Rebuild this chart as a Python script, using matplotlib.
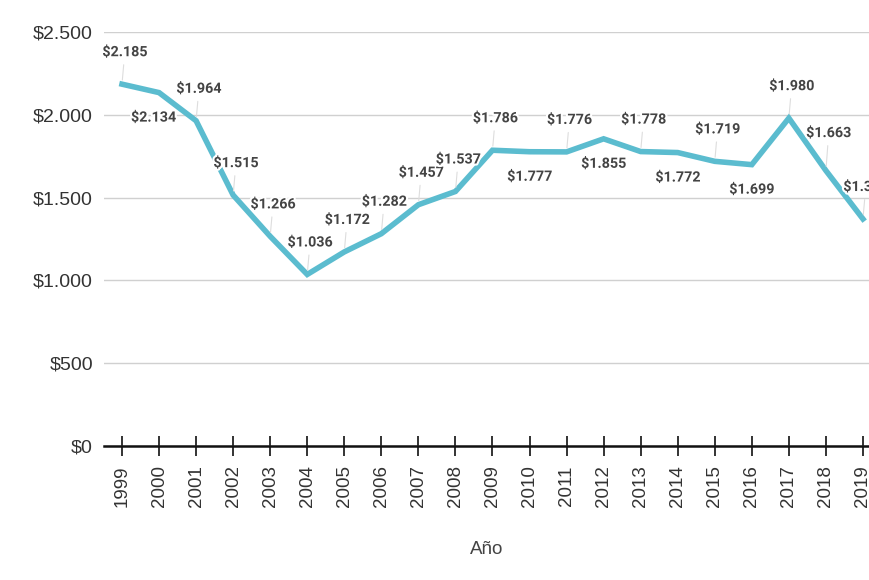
import matplotlib
matplotlib.use("Agg")
from matplotlib import pyplot as plt
from matplotlib import patheffects as pe
from matplotlib.ticker import FuncFormatter

years = list(range(1999, 2020))
values = [2185, 2134, 1964, 1515, 1266, 1036, 1172, 1282, 1457, 1537,
          1786, 1777, 1776, 1855, 1778, 1772, 1719, 1699, 1980, 1663, 1371]
labels = ['$2.185', '$2.134', '$1.964', '$1.515', '$1.266', '$1.036',
          '$1.172', '$1.282', '$1.457', '$1.537', '$1.786', '$1.777',
          '$1.776', '$1.855', '$1.778', '$1.772', '$1.719', '$1.699',
          '$1.980', '$1.663', '$1.371']
y_ticks = [0, 500, 1000, 1500, 2000, 2500]

# labels drawn under the line instead of over it
below = {2000, 2010, 2012, 2014, 2016}

plt.rcParams['font.family'] = ['Liberation Sans', 'DejaVu Sans']

fig = plt.figure(figsize=(8.7, 5.8), dpi=100)
ax = fig.add_axes([104 / 870, 1 - 446 / 580, 766 / 870, 414 / 580])

ax.plot(years, values, color='#5bbccf', lw=4, zorder=3,
        solid_joinstyle='miter', clip_on=False)

halo = [pe.withStroke(linewidth=3, foreground='white')]
for yr, v, lab in zip(years, values, labels):
    if yr in below:
        dx = -4 if yr == 2000 else 0
        ax.annotate(lab, (yr, v), xytext=(dx, -18), textcoords='offset points',
                    ha='center', va='center', fontsize=10.3, fontweight='bold',
                    family='Roboto', color='#444444', zorder=4,
                    path_effects=halo, annotation_clip=False)
    else:
        off = 27 if yr == 2018 else 23
        ax.annotate(lab, (yr, v), xytext=(2, off), textcoords='offset points',
                    ha='center', va='center', fontsize=10.3, fontweight='bold',
                    family='Roboto', color='#444444', zorder=4,
                    path_effects=halo, annotation_clip=False,
                    arrowprops=dict(arrowstyle='-', color='#dddddd', lw=0.8,
                                    shrinkA=2, shrinkB=3))

ax.set_xlim(1998.514, 2019.19)
ax.set_ylim(0, 2500)
ax.set_xticks(years)
ax.set_xticklabels([str(y) for y in years], rotation=90)
ax.set_yticks(y_ticks)
ax.yaxis.set_major_formatter(FuncFormatter(
    lambda v, p: '$' + f'{int(v):,}'.replace(',', '.')))

ax.grid(axis='y', color='#d0d0d0', lw=1)
ax.set_axisbelow(True)
for side in ['top', 'right', 'left']:
    ax.spines[side].set_visible(False)
ax.spines['bottom'].set_color('#111111')
ax.spines['bottom'].set_linewidth(1.8)
ax.spines['bottom'].set_zorder(5)

ax.tick_params(axis='x', direction='inout', length=14, width=1.2,
               color='#111111', pad=7, labelsize=13.5, labelcolor='#333333')
ax.tick_params(axis='y', length=0, pad=8, labelsize=14, labelcolor='#333333')

ax.set_xlabel('Año', fontsize=13.5, color='#444444', labelpad=24)

fig.savefig('out.png', dpi=100)
